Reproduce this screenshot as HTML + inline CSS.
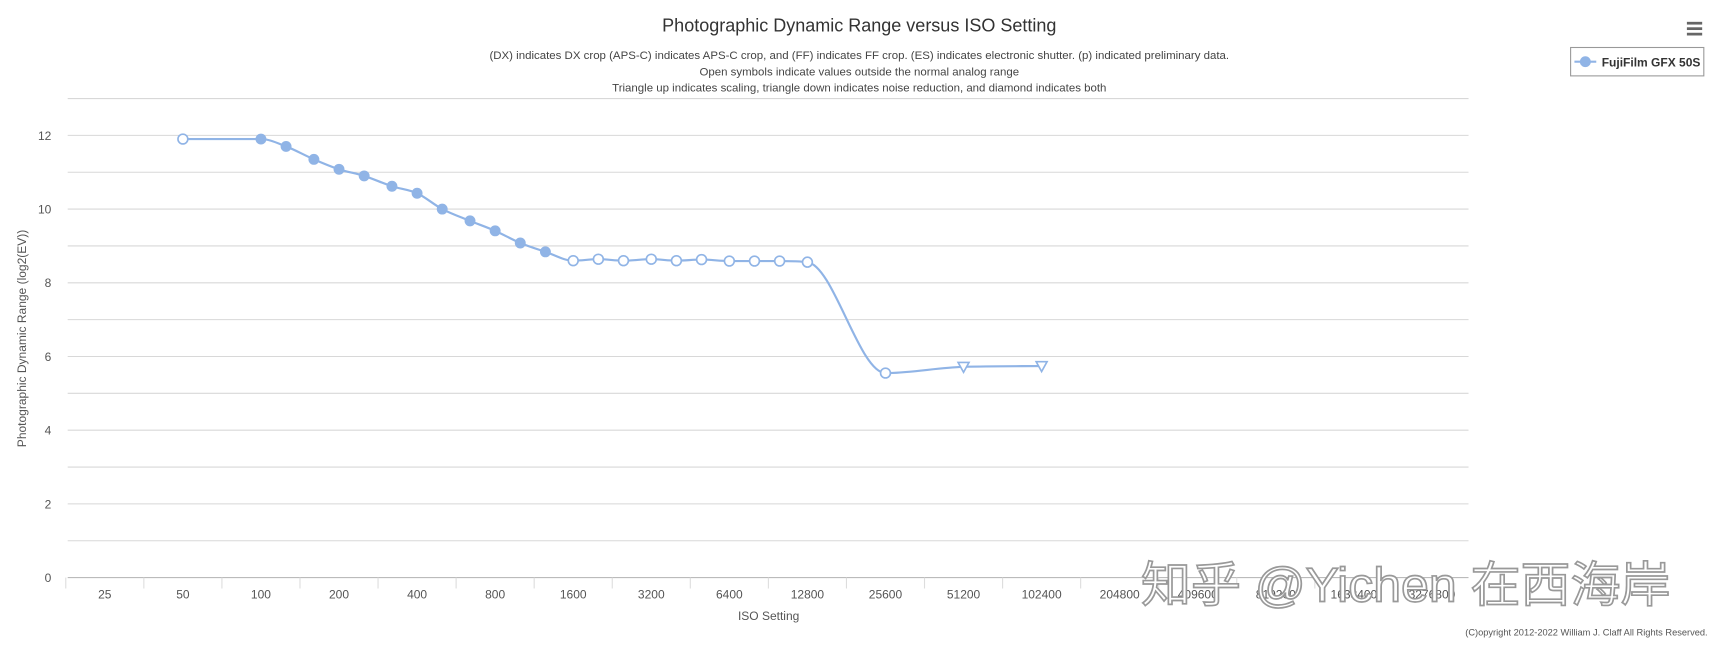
<!DOCTYPE html>
<html><head><meta charset="utf-8">
<style>
html,body{margin:0;padding:0;background:#fff;}
svg{display:block;font-family:"Liberation Sans","DejaVu Sans",sans-serif;}
</style></head>
<body>
<svg id="chart" width="1712" height="646" viewBox="0 0 1712 646">
<g transform="scale(1.09184)">
<text x="787" y="29" text-anchor="middle" font-size="16.5" fill="#333">Photographic Dynamic Range versus ISO Setting</text>
<g font-size="10.5" fill="#444" text-anchor="middle">
<text x="787" y="54">(DX) indicates DX crop (APS-C) indicates APS-C crop, and (FF) indicates FF crop. (ES) indicates electronic shutter. (p) indicated preliminary data.</text>
<text x="787" y="69">Open symbols indicate values outside the normal analog range</text>
<text x="787" y="84">Triangle up indicates scaling, triangle down indicates noise reduction, and diamond indicates both</text>
</g>
<g fill="#666">
<rect x="1545" y="20" width="14" height="2.5"/><rect x="1545" y="25" width="14" height="2.5"/><rect x="1545" y="30" width="14" height="2.5"/>
</g>
<g>
<rect x="1438.5" y="43.5" width="122" height="26" fill="#fff" stroke="#999"/>
<line x1="1442" y1="56.5" x2="1462" y2="56.5" stroke="#90b4e6" stroke-width="2"/>
<circle cx="1452" cy="56.5" r="5" fill="#90b4e6"/>
<text x="1467" y="61" font-size="11" font-weight="bold" fill="#333">FujiFilm GFX 50S</text>
</g>
<g id="grid"></g>
<g id="axes"></g>
<g id="series"></g>
<text x="0" y="0" transform="translate(24,310) rotate(-90)" text-anchor="middle" font-size="11" fill="#555">Photographic Dynamic Range (log2(EV))</text>
<text x="704" y="568" text-anchor="middle" font-size="11" fill="#555">ISO Setting</text>
<text x="1564" y="582" text-anchor="end" font-size="8.5" fill="#555">(C)opyright 2012-2022 William J. Claff All Rights Reserved.</text>
<text x="1045" y="551" font-size="44" textLength="485" lengthAdjust="spacingAndGlyphs" fill="#fff" stroke="#999" stroke-width="1.5" font-family="'Liberation Sans','Noto Sans CJK SC',sans-serif">知乎 @Yichen 在西海岸</text>
</g>
</svg>
<script>
const tickLabels=["25","50","100","200","400","800","1600","3200","6400","12800","25600","51200","102400","204800","409600","819200","1638400","3276800"];
const yTicks=[0,2,4,6,8,10,12];
const isoValues=[50,100,125,160,200,250,320,400,500,640,800,1000,1250,1600,2000,2500,3200,4000,5000,6400,8000,10000,12800,25600,51200,102400];
const drValues=[11.9,11.9,11.7,11.35,11.08,10.9,10.62,10.43,10.0,9.68,9.41,9.08,8.84,8.6,8.64,8.6,8.64,8.6,8.63,8.59,8.59,8.59,8.56,5.55,5.72,5.74];
const markerTypes=["open","filled","filled","filled","filled","filled","filled","filled","filled","filled","filled","filled","filled","open","open","open","open","open","open","open","open","open","open","open","tri","tri"];

const NS="http://www.w3.org/2000/svg";
const X0=62,X1=1345,Y0=529,PX=33.75;
const xs=v=>96+Math.log2(v/25)*71.5;
const ys=v=>Y0-v*PX;
function mk(tag,attrs,parent){const e=document.createElementNS(NS,tag);for(const k in attrs)e.setAttribute(k,attrs[k]);parent.appendChild(e);return e;}
const grid=document.getElementById('grid'),axes=document.getElementById('axes'),ser=document.getElementById('series');
for(let v=1;v<=13;v++){
  const g=mk('line',{x1:X0,x2:X1,y1:ys(v),y2:ys(v),stroke:'#d8d8d8','stroke-width':1},grid);
  
  
}
yTicks.forEach(v=>{
  const t=mk('text',{x:47,y:ys(v)+4,'text-anchor':'end','font-size':11,fill:'#555'},axes);
  t.textContent=v;
  
  
});
const ax=mk('line',{x1:X0,x2:X1,y1:Y0,y2:Y0,stroke:'#bbb'},axes);


tickLabels.forEach((l,i)=>{
  const x=xs(+l);
  const tk=mk('line',{x1:x-35.75,x2:x-35.75,y1:Y0,y2:Y0+10,stroke:'#ddd'},axes);
  
  
  const t=mk('text',{x:x,y:Y0+19,'text-anchor':'middle','font-size':11,fill:'#555'},axes);
  t.textContent=l;
  
  
});
// monotone cubic spline
const pts=isoValues.map((v,i)=>[xs(v),ys(drValues[i])]);
const n=pts.length,dk=[],m=[];
for(let i=0;i<n-1;i++)dk.push((pts[i+1][1]-pts[i][1])/(pts[i+1][0]-pts[i][0]));
m[0]=dk[0];m[n-1]=dk[n-2];
for(let i=1;i<n-1;i++){m[i]=(dk[i-1]*dk[i]<=0)?0:(dk[i-1]+dk[i])/2;}
for(let i=0;i<n-1;i++){
  if(dk[i]===0){m[i]=0;m[i+1]=0;continue;}
  const a=m[i]/dk[i],b=m[i+1]/dk[i],s=a*a+b*b;
  if(s>9){const t=3/Math.sqrt(s);m[i]=t*a*dk[i];m[i+1]=t*b*dk[i];}
}
let d='M'+pts[0][0]+' '+pts[0][1];
for(let i=0;i<n-1;i++){
  const h=(pts[i+1][0]-pts[i][0])/3;
  d+=` C${pts[i][0]+h} ${pts[i][1]+m[i]*h} ${pts[i+1][0]-h} ${pts[i+1][1]-m[i+1]*h} ${pts[i+1][0]} ${pts[i+1][1]}`;
}
const line=mk('path',{d:d,fill:'none',stroke:'#90b4e6','stroke-width':2},ser);


pts.forEach((p,i)=>{
  let mm;
  if(markerTypes[i]==='tri'){
    mm=mk('path',{d:`M${p[0]-5} ${p[1]-4} L${p[0]+5} ${p[1]-4} L${p[0]} ${p[1]+5} Z`,fill:'#fff',stroke:'#90b4e6','stroke-width':1.5},ser);
  }else if(markerTypes[i]==='open'){
    mm=mk('circle',{cx:p[0],cy:p[1],r:4.5,fill:'#fff',stroke:'#90b4e6','stroke-width':1.5},ser);
  }else{
    mm=mk('circle',{cx:p[0],cy:p[1],r:5,fill:'#90b4e6'},ser);
  }
  
  
});
</script>
</body></html>
